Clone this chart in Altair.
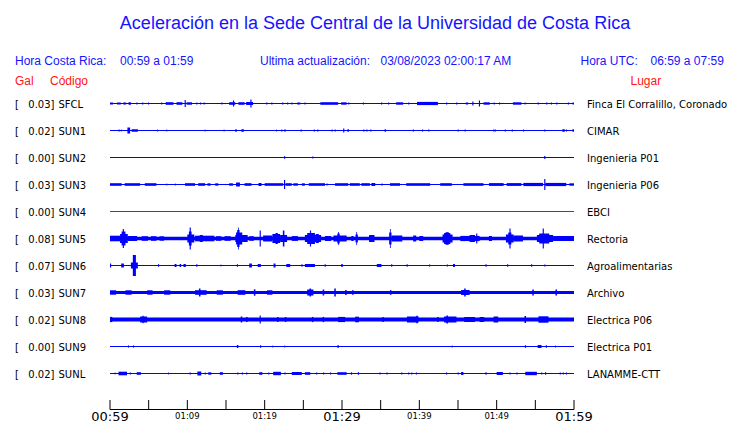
import altair as alt
import pandas as pd

# ---------------- data ----------------
stations = ["SFCL", "SUN1", "SUN2", "SUN3", "SUN4", "SUN5", "SUN6", "SUN7", "SUN8", "SUN9", "SUNL"]
gal = ["0.03", "0.02", "0.00", "0.03", "0.00", "0.08", "0.07", "0.03", "0.02", "0.00", "0.02"]
lugar = ["Finca El Corralillo, Coronado", "CIMAR", "Ingenieria P01", "Ingenieria P06", "EBCI",
         "Rectoria", "Agroalimentarias", "Archivo", "Electrica P06", "Electrica P01", "LANAMME-CTT"]
# background half-thickness of each trace (px)
base_half = [0.5, 0.5, 0.5, 0.5, 0.5, 1.8, 0.5, 1.6, 1.9, 0.5, 0.5]
# stations whose trace is drawn in red (no data)
red_trace = [False, False, False, False, True, False, False, False, False, False, False]

# bursts: (start minute, end minute, half amplitude px), minutes after 00:59
ev_SFCL = [(0.0,0.4,1.0),(0.9,1.4,1.0),(1.7,2.1,1.0),(2.4,2.7,1.3),(3.4,3.55,1.0),(4.15,4.3,1.0),(4.9,5.05,1.0),
           (6.6,6.75,1.0),(7.2,8.2,1.3),(8.6,9.35,1.3),(9.65,9.8,3.5),(9.9,10.6,1.2),(11.15,11.3,1.0),(11.65,11.8,1.0),
           (12.1,12.25,1.0),(14.4,14.55,1.0),(15.4,16.2,1.3),(15.9,16.05,3.0),(16.6,17.4,1.3),(17.6,18.5,1.5),
           (18.15,18.3,4.0),(20.2,20.35,1.0),(20.85,21.0,1.0),(22.25,22.4,1.0),(22.9,23.05,1.0),(23.45,23.6,1.0),
           (24.2,24.6,1.0),(25.15,25.3,1.0),(27.2,29.5,1.3),(29.9,30.6,1.2),(30.8,30.95,1.0),(32.7,32.85,1.0),
           (35.05,35.2,1.0),(35.95,36.1,1.0),(37.0,37.9,1.2),(38.55,38.7,1.0),(39.7,42.4,1.6),(43.45,43.6,1.0),
           (44.75,44.9,1.0),(46.0,46.3,1.0),(46.85,47.0,2.0),(47.7,47.85,3.0),(48.3,49.1,1.2),(49.6,49.75,1.0),
           (50.3,50.45,1.0),(52.1,53.2,1.2),(53.6,53.75,1.0),(55.3,55.45,1.0),(56.4,56.55,1.0),(57.0,57.15,1.0),
           (57.7,57.85,1.0),(59.2,59.35,1.0),(59.8,60.0,1.0)]
ev_SUN1 = [(1.1,1.25,1.0),(1.4,1.5,1.0),(2.25,2.6,3.0),(2.8,3.6,1.3),(6.1,6.2,1.0),(7.3,7.4,1.0),(12.25,12.35,1.0),
           (14.7,14.8,1.0),(16.2,16.4,1.2),(17.0,17.3,1.3),(21.5,21.6,1.0),(22.15,22.3,1.0),(22.55,22.7,1.2),
           (24.65,24.8,1.0),(26.35,26.5,1.0),(26.8,26.95,1.0),(28.65,28.8,1.0),(29.05,29.2,1.0),(30.15,30.3,2.0),
           (30.7,30.9,1.2),(32.75,32.9,1.0),(33.15,33.3,1.0),(33.65,33.8,1.0),(35.5,35.7,1.2),(39.15,39.3,1.0),
           (40.35,40.5,1.0),(41.15,41.3,1.0),(44.95,45.1,1.0),(45.85,46.0,1.0),(49.55,49.7,1.0),(49.75,49.9,1.0),
           (51.05,51.2,1.0),(51.95,52.1,1.0),(53.4,53.55,1.0),(56.15,56.3,1.0),(58.5,58.8,1.3),(58.95,59.1,1.0),
           (59.8,60.0,1.3)]
ev_SUN2 = [(22.5,22.65,1.2),(26.15,26.3,1.0),(56.15,56.3,1.5)]
ev_SUN3 = [(0.0,1.5,1.3),(1.9,3.9,1.3),(4.5,6.0,1.3),(7.3,7.4,1.0),(8.4,8.5,1.0),(9.7,11.0,1.3),(11.4,12.3,1.3),
           (12.6,13.0,1.2),(13.6,14.0,1.2),(15.4,15.9,1.2),(16.3,16.8,2.0),(17.4,18.3,1.3),(19.2,19.6,1.5),
           (20.0,22.4,1.3),(22.5,22.65,4.5),(22.7,23.5,1.3),(23.7,24.3,1.2),(24.8,25.2,1.2),(25.7,27.8,1.3),
           (28.0,28.15,1.0),(29.1,30.8,1.3),(31.0,32.3,1.3),(32.5,33.6,1.3),(33.8,34.3,1.5),(35.1,35.25,1.0),
           (36.2,37.5,1.3),(38.3,41.4,1.3),(42.7,44.2,1.3),(45.7,48.3,1.3),(49.0,50.9,1.4),(51.3,53.2,1.4),
           (53.45,56.0,1.6),(56.15,56.3,5.5),(56.3,59.0,1.6),(59.4,60.0,1.2)]
ev_SUN4 = []
ev_SUN5 = [(0.0,1.3,2.8),(1.3,2.3,4.5),(1.5,2.0,7.0),(1.65,1.8,9.5),(2.3,3.5,2.5),(4.1,4.9,2.3),(5.3,6.0,2.3),
           (6.4,7.0,2.2),(10.0,10.9,4.0),(10.2,10.55,7.0),(10.3,10.45,11.0),(11.0,13.5,2.8),(11.6,12.0,3.5),
           (13.7,14.4,2.3),(14.8,15.6,2.3),(16.2,17.8,3.5),(16.3,17.1,6.0),(16.45,16.75,8.5),(16.55,16.65,11.0),
           (18.0,18.6,2.3),(19.35,19.5,8.0),(19.8,21.0,3.0),(21.0,22.0,4.5),(21.4,21.7,5.5),(22.0,22.9,3.5),
           (22.35,22.55,8.0),(23.5,24.3,2.4),(25.2,27.3,3.5),(25.5,26.5,5.5),(25.85,26.0,8.0),(26.6,27.0,4.5),
           (27.8,28.6,2.5),(28.9,30.0,3.0),(29.4,29.7,5.0),(29.5,29.6,6.5),(30.0,30.6,3.0),(31.2,31.5,2.5),
           (31.75,32.05,4.0),(31.85,31.95,6.5),(33.5,34.2,3.5),(36.1,36.4,6.0),(36.2,36.3,9.5),(36.4,37.8,3.0),
           (39.2,39.6,3.0),(40.0,40.5,2.5),(43.0,44.3,4.0),(43.2,44.0,5.5),(43.4,43.8,6.3),(45.3,47.8,2.6),
           (46.5,47.2,3.5),(47.35,47.5,5.0),(49.0,49.4,2.5),(51.2,52.2,4.0),(51.5,51.9,6.0),(51.65,51.8,10.0),
           (52.2,53.4,3.0),(55.2,57.3,3.5),(55.5,56.8,5.0),(55.95,56.1,10.0),(57.3,60.0,2.5)]
ev_SUN6 = [(0.0,0.15,2.0),(1.45,1.8,2.0),(2.95,3.35,10.5),(2.7,3.6,3.0),(6.2,6.35,1.3),(8.35,8.6,1.5),(9.0,9.2,1.5),
           (9.5,9.8,1.5),(11.15,11.3,1.3),(14.3,14.4,1.0),(16.4,16.55,1.3),(18.0,18.35,2.0),(19.1,19.5,1.5),
           (21.15,21.4,2.0),(22.8,23.3,1.5),(24.75,24.9,1.3),(25.2,26.5,1.5),(27.75,27.9,1.3),(29.9,30.1,1.5),
           (34.5,35.1,1.5),(36.35,36.5,1.3),(38.35,38.5,1.3),(41.25,41.4,1.0),(43.55,43.7,1.0),(44.35,44.6,1.5),
           (48.55,48.7,1.3),(51.35,51.5,1.3),(54.45,54.6,1.3),(56.15,56.3,1.0)]
ev_SUN7 = [(0.0,0.8,2.2),(2.0,2.8,2.2),(4.8,5.5,2.2),(7.0,7.8,2.2),(11.5,11.7,4.0),(11.0,12.5,2.3),(13.8,14.6,2.2),
           (16.5,17.5,2.3),(18.6,18.8,3.2),(20.3,21.0,2.2),(25.5,26.3,3.0),(25.8,26.0,4.0),(27.5,27.7,3.0),
           (29.0,29.2,4.0),(30.4,30.6,2.5),(31.3,31.5,2.2),(36.2,36.4,2.3),(45.8,46.0,4.0),(45.4,46.5,2.5),
           (54.6,54.8,3.0),(57.6,57.8,3.0)]
ev_SUN8 = [(0.0,0.3,2.6),(3.9,4.8,3.0),(4.2,4.35,3.8),(16.9,17.1,3.0),(17.6,17.8,2.6),(19.35,19.5,4.0),
           (21.6,21.8,2.5),(22.6,22.8,2.5),(26.1,26.3,2.6),(27.5,27.7,2.6),(29.5,30.4,2.6),(31.7,32.2,2.8),
           (35.2,35.4,2.5),(38.4,39.9,3.0),(39.6,39.8,3.8),(42.3,42.5,2.5),(43.2,44.8,3.0),(43.5,43.7,4.0),
           (45.8,47.2,2.5),(47.8,48.4,2.5),(49.6,50.2,3.0),(53.6,53.8,3.5),(55.4,56.7,3.2)]
ev_SUN9 = [(2.35,2.45,1.2),(3.0,3.1,1.2),(16.4,16.6,1.5),(19.4,19.55,1.2),(21.0,21.1,1.0),(22.55,22.65,1.0),
           (29.4,29.6,1.2),(44.2,44.3,1.0),(53.65,53.8,1.3),(55.3,55.8,1.5),(56.35,56.5,1.3),(57.55,57.65,1.0)]
ev_SUNL = [(0.6,0.7,1.0),(1.1,2.2,1.8),(2.55,2.7,1.0),(3.45,4.0,1.3),(7.5,7.6,1.0),(10.3,10.45,1.0),(11.3,11.8,2.0),
           (12.25,12.4,1.0),(12.7,13.1,1.2),(14.2,14.6,1.3),(16.45,16.6,1.0),(17.05,17.2,1.0),(17.6,17.75,1.0),
           (19.3,19.7,1.3),(20.45,20.6,1.0),(21.1,22.1,1.7),(22.55,22.7,1.0),(23.5,24.8,1.5),(25.2,25.9,1.3),
           (26.65,26.8,1.0),(27.55,27.7,1.0),(28.45,28.6,1.0),(29.4,30.6,1.3),(31.15,31.3,1.2),(32.05,32.2,1.3),
           (34.85,35.0,1.0),(35.75,35.9,1.0),(37.65,37.8,1.0),(38.55,38.7,1.0),(38.95,39.1,1.0),(39.55,39.7,1.0),
           (43.45,43.6,1.0),(44.95,45.1,1.0),(45.4,45.7,1.5),(48.55,48.7,1.3),(50.0,50.8,1.5),(51.65,51.8,1.0),
           (52.55,52.7,1.0),(53.7,55.2,1.7),(55.75,55.9,1.0),(56.25,56.4,1.3),(58.15,58.3,1.0),(58.55,58.7,1.0),
           (58.95,59.1,1.0)]
events = [ev_SFCL, ev_SUN1, ev_SUN2, ev_SUN3, ev_SUN4, ev_SUN5, ev_SUN6, ev_SUN7, ev_SUN8, ev_SUN9, ev_SUNL]

tick_minutes = list(range(0, 61, 5))
label_minutes = [0, 10, 20, 30, 40, 50, 60]
label_text = ["00:59", "01:09", "01:19", "01:29", "01:39", "01:49", "01:59"]
label_big = [True, False, False, True, False, False, True]

# ---------------- build tables ----------------
ROW = 27
recs = []
for i, (base, ev) in enumerate(zip(base_half, events)):
    c = i * ROW
    if base > 0.5:
        recs.append(dict(t0=0, t1=60, y0=c - base, y1=c + base))
    for a, b, amp in ev:
        recs.append(dict(t0=a, t1=b, y0=c - amp, y1=c + amp))
traces = pd.DataFrame(recs)

baselines = pd.DataFrame(dict(y=[i * ROW for i in range(len(stations))], t0=0, t1=60,
                              red=red_trace))

rows = pd.DataFrame(dict(y=[i * ROW for i in range(len(stations))],
                         gal=[g + "]" for g in gal], code=stations, lugar=lugar))
ticks = pd.DataFrame(dict(t=tick_minutes))
labels = pd.DataFrame(dict(t=label_minutes, text=label_text, big=label_big))
axis_line = pd.DataFrame(dict(t0=[0], t1=[60]))

xs = alt.Scale(domain=[0, 60], range=[102, 566])
ys = alt.Scale(domain=[0, 270], range=[95.5, 365.5])

BLUE = "#1414ff"
RED = "#ff1414"

trace_layer = alt.Chart(traces).mark_rect(strokeWidth=0, color="#0000ff").encode(
    x=alt.X("t0:Q", scale=xs, axis=None), x2="t1:Q",
    y=alt.Y("y0:Q", scale=ys, axis=None), y2="y1:Q")

base_layer = alt.Chart(baselines).mark_rule(strokeWidth=1).encode(
    x=alt.X("t0:Q", scale=xs, axis=None), x2="t1:Q",
    y=alt.Y("y:Q", scale=ys, axis=None),
    color=alt.condition("datum.red", alt.value("#ff0000"), alt.value("#0000ff")))

row_font = dict(font="DejaVu Sans", fontSize=10, color="black", baseline="alphabetic", dy=4)
bracket = alt.Chart(rows).mark_text(align="left", **row_font).encode(
    x=alt.value(7), y=alt.Y("y:Q", scale=ys, axis=None), text=alt.value("["))
galt = alt.Chart(rows).mark_text(align="right", **row_font).encode(
    x=alt.value(46.5), y=alt.Y("y:Q", scale=ys, axis=None), text="gal:N")
codet = alt.Chart(rows).mark_text(align="left", **row_font).encode(
    x=alt.value(50.5), y=alt.Y("y:Q", scale=ys, axis=None), text="code:N")
lugart = alt.Chart(rows).mark_text(align="left", **row_font).encode(
    x=alt.value(579), y=alt.Y("y:Q", scale=ys, axis=None), text="lugar:N")

def label(text, x, y, size, color, align="left", font="Liberation Sans"):
    return alt.Chart(pd.DataFrame({"a": [0]})).mark_text(
        text=text, align=align, baseline="alphabetic", font=font, fontSize=size, color=color
    ).encode(x=alt.value(x), y=alt.value(y))

headers = [
    label("Aceleración en la Sede Central de la Universidad de Costa Rica", 367, 21, 18, BLUE, "center"),
    label("Hora Costa Rica:", 7, 57, 12, BLUE),
    label("00:59 a 01:59", 112, 57, 12, BLUE),
    label("Ultima actualización:", 252, 57, 12, BLUE),
    label("03/08/2023 02:00:17 AM", 372.5, 57, 12, BLUE),
    label("Hora UTC:", 572.5, 57, 12, BLUE),
    label("06:59 a 07:59", 642.5, 57, 12, BLUE),
    label("Gal", 7, 77, 12, RED),
    label("Código", 42, 77, 12, RED),
    label("Lugar", 622.5, 77, 12, RED),
]

axis_rule = alt.Chart(axis_line).mark_rule(color="black", strokeWidth=1).encode(
    x=alt.X("t0:Q", scale=xs, axis=None), x2="t1:Q", y=alt.value(401.5))
tick_rules = alt.Chart(ticks).mark_rule(color="black", strokeWidth=1).encode(
    x=alt.X("t:Q", scale=xs, axis=None), y=alt.value(392), y2=alt.value(401.5))
big_labels = alt.Chart(labels).transform_filter("datum.big").mark_text(
    font="DejaVu Sans", fontSize=13, color="black", baseline="alphabetic", align="center").encode(
    x=alt.X("t:Q", scale=xs, axis=None), y=alt.value(413), text="text:N")
small_labels = alt.Chart(labels).transform_filter("!datum.big").mark_text(
    font="DejaVu Sans", fontSize=8.5, color="black", baseline="alphabetic", align="center").encode(
    x=alt.X("t:Q", scale=xs, axis=None), y=alt.value(411), text="text:N")

chart = alt.layer(
    base_layer, trace_layer,
    bracket, galt, codet, lugart, axis_rule, tick_rules, big_labels, small_labels, *headers
).properties(
    width=724, height=415, padding=0, autosize=alt.AutoSizeParams(type="none")
).configure(view=alt.ViewConfig(stroke=None, strokeWidth=0))

chart.save("out.html", embed_options={"renderer": "svg", "actions": False})
